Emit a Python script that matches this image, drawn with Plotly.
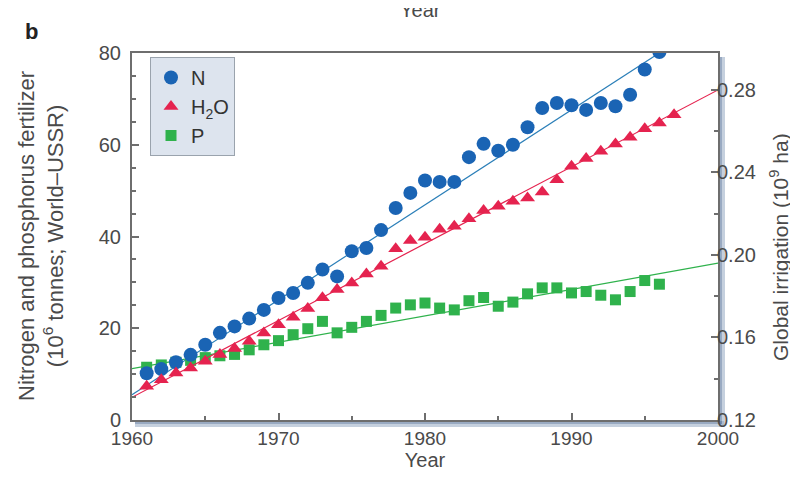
import plotly.graph_objects as go

# ---------------- data ----------------
years_N = list(range(1961, 1997))
N_values = [10.2, 11.1, 12.6, 14.2, 16.4, 19.0, 20.4, 22.1, 24.0, 26.6,
            27.7, 29.9, 32.8, 31.3, 36.8, 37.5, 41.4, 46.2, 49.5, 52.2,
            51.9, 51.9, 57.3, 60.2, 58.7, 60.0, 63.8, 68.0, 69.1, 68.6,
            67.6, 69.1, 68.4, 70.9, 76.4, 80.2]

years_H2O = list(range(1961, 1998))
H2O_values = [0.1363, 0.1395, 0.1428, 0.1452, 0.1485, 0.1517, 0.1546, 0.1582,
              0.1622, 0.1662, 0.1698, 0.1740, 0.1792, 0.1832, 0.1864, 0.1908,
              0.1945, 0.2030, 0.2070, 0.2086, 0.2125, 0.2139, 0.2176, 0.2215,
              0.2236, 0.2260, 0.2276, 0.2305, 0.2365, 0.2430, 0.2467, 0.2503,
              0.2538, 0.2570, 0.2612, 0.2640, 0.2680]

years_P = list(range(1961, 1997))
P_values = [11.5, 12.0, 12.6, 13.0, 13.6, 14.0, 14.3, 15.3, 16.4, 17.3,
            18.6, 19.9, 21.5, 19.0, 20.2, 21.5, 22.8, 24.4, 25.1, 25.5,
            24.4, 24.0, 26.0, 26.7, 24.8, 25.7, 27.5, 28.8, 28.8, 27.7,
            28.0, 27.2, 26.2, 28.0, 30.4, 29.6]

# trend lines (end values)
trend_years = [1960, 2000]
N_trend = [5.5, 88.3]
H2O_trend = [0.131, 0.280]
P_trend = [11.2, 34.2]

x_ticks = [1960, 1970, 1980, 1990, 2000]
y_ticks = [0, 20, 40, 60, 80]
y2_ticks = [0.12, 0.16, 0.20, 0.24, 0.28]
y2_ticktext = ["0.12", "0.16", "0.20", "0.24", "0.28"]

# ---------------- styles ----------------
BLUE = "#1a64b4"
BLUE_LINE = "#2b7fb8"
RED = "#e5234f"
GREEN = "#2fb24c"
TXT = "#4a4a4a"
AX = "#6e6e6e"
FONT = "Liberation Sans, Arial, sans-serif"

fig = go.Figure()

# trend lines
fig.add_trace(go.Scatter(x=trend_years, y=P_trend, mode="lines",
                         line=dict(color=GREEN, width=1.2), showlegend=False,
                         hoverinfo="skip"))
fig.add_trace(go.Scatter(x=trend_years, y=H2O_trend, mode="lines", yaxis="y2",
                         line=dict(color=RED, width=1.2), showlegend=False,
                         hoverinfo="skip"))
fig.add_trace(go.Scatter(x=trend_years, y=N_trend, mode="lines",
                         line=dict(color=BLUE_LINE, width=1.2), showlegend=False,
                         hoverinfo="skip"))

# markers
fig.add_trace(go.Scatter(x=years_P, y=P_values, mode="markers", name="P",
                         legendrank=3,
                         marker=dict(symbol="square", size=11, color=GREEN,
                                     line=dict(width=0))))
fig.add_trace(go.Scatter(x=years_H2O, y=H2O_values, mode="markers", yaxis="y2",
                         name="H<sub>2</sub>O", legendrank=2,
                         marker=dict(symbol="triangle-up", size=13, color=RED,
                                     line=dict(width=0))))
fig.add_trace(go.Scatter(x=years_N, y=N_values, mode="markers", name="N",
                         legendrank=1,
                         marker=dict(symbol="circle", size=14, color=BLUE,
                                     line=dict(width=0))))

W, H = 798, 478
L, R, T, B = 124, 88, 45, 66
pw, ph = W - L - R, H - T - B


def px_x(px):
    return (px - L) / pw


def px_y(py):
    return (H - B - py) / ph


shapes = [
    # shadow along the bottom and right edges of the frame
    dict(type="rect", xref="paper", yref="paper",
         x0=px_x(127), x1=px_x(716), y0=px_y(419), y1=px_y(413),
         fillcolor="rgba(150,170,195,0.55)", line=dict(width=0), layer="below"),
    dict(type="rect", xref="paper", yref="paper",
         x0=px_x(711), x1=px_x(717), y0=px_y(419), y1=px_y(49),
         fillcolor="rgba(150,170,195,0.55)", line=dict(width=0), layer="below"),
    dict(type="rect", xref="paper", yref="paper",
         x0=px_x(127), x1=px_x(714), y0=px_y(416), y1=px_y(413),
         fillcolor="rgba(100,125,160,0.45)", line=dict(width=0), layer="below"),
    dict(type="rect", xref="paper", yref="paper",
         x0=px_x(711), x1=px_x(714), y0=px_y(416), y1=px_y(49),
         fillcolor="rgba(100,125,160,0.45)", line=dict(width=0), layer="below"),
]

annotations = [
    dict(text="<b>b</b>", x=px_x(24), y=px_y(24), xref="paper", yref="paper",
         showarrow=False, font=dict(size=22, color="#222", family=FONT),
         xanchor="center", yanchor="middle"),
    dict(text="Year", x=px_x(412), y=px_y(15), xref="paper", yref="paper",
         showarrow=False, font=dict(size=20, color=TXT, family=FONT),
         xanchor="center", yanchor="bottom"),
    dict(text="Nitrogen and phosphorus fertilizer<br>(10<sup>6</sup> tonnes; World\u2013USSR)",
         x=px_x(33), y=px_y(228), xref="paper", yref="paper", textangle=-90,
         showarrow=False, font=dict(size=22, color=TXT, family=FONT),
         xanchor="center", yanchor="middle"),
    dict(text="Global irrigation (10<sup>9</sup> ha)",
         x=px_x(771), y=px_y(239), xref="paper", yref="paper", textangle=-90,
         showarrow=False, font=dict(size=21, color=TXT, family=FONT),
         xanchor="center", yanchor="middle"),
]

fig.update_layout(
    width=W, height=H,
    margin=dict(l=L, r=R, t=T, b=B, autoexpand=False),
    paper_bgcolor="white", plot_bgcolor="white",
    font=dict(family=FONT, size=20, color=TXT),
    showlegend=True,
    legend=dict(x=px_x(142), y=px_y(49), xanchor="left", yanchor="top",
                bgcolor="#dde4ee", bordercolor="#9aa3ad", borderwidth=1,
                font=dict(size=20, color="#333", family=FONT),
                itemwidth=30, tracegroupgap=0),
    xaxis=dict(range=[1960, 2000], tickvals=x_ticks, ticks="inside",
               ticklen=7, tickcolor=AX, tickwidth=1.5,
               minor=dict(dtick=5, tick0=1960, ticks="inside", ticklen=4,
                          tickcolor=AX),
               showline=True, linecolor=AX, linewidth=2, mirror=True,
               showgrid=False, zeroline=False,
               tickfont=dict(size=19, color=TXT), ticklabelstandoff=0,
               title=dict(text="Year", font=dict(size=20, color=TXT),
                          standoff=0)),
    yaxis=dict(range=[0, 80], tickvals=y_ticks, ticks="inside", ticklen=7,
               tickcolor=AX, tickwidth=1.5,
               minor=dict(dtick=5, tick0=0, ticks="inside", ticklen=4,
                          tickcolor=AX),
               showline=True, linecolor=AX, linewidth=2,
               showgrid=False, zeroline=False,
               tickfont=dict(size=20, color=TXT), ticklabelstandoff=5),
    yaxis2=dict(range=[0.12, 0.2979], overlaying="y", side="right",
                tickvals=y2_ticks, ticktext=y2_ticktext, ticks="inside",
                ticklen=7, tickcolor=AX, tickwidth=1.5,
                minor=dict(tickvals=[0.14, 0.18, 0.22, 0.26], ticks="inside",
                           ticklen=4, tickcolor=AX),
                showline=True, linecolor=AX, linewidth=2,
                showgrid=False, zeroline=False,
                tickfont=dict(size=20, color=TXT), ticklabelstandoff=-7),
    shapes=shapes,
    annotations=annotations,
)

fig.write_html("out.html")
